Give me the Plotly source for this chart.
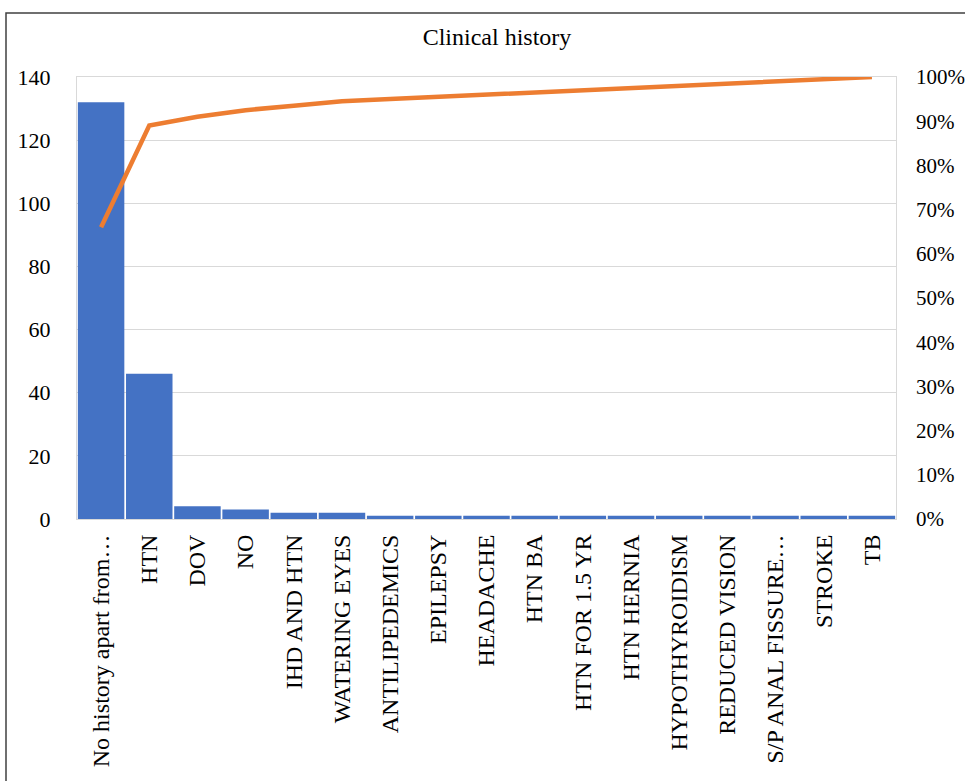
import plotly.graph_objects as go

categories = ["No history apart from…", "HTN", "DOV", "NO", "IHD AND HTN", "WATERING EYES",
              "ANTILIPEDEMICS", "EPILEPSY", "HEADACHE", "HTN BA", "HTN FOR 1.5 YR",
              "HTN HERNIA", "HYPOTHYROIDISM", "REDUCED VISION", "S/P ANAL FISSURE…",
              "STROKE", "TB"]
counts = [132, 46, 4, 3, 2, 2, 1, 1, 1, 1, 1, 1, 1, 1, 1, 1, 1]
cumulative_pct = [0.66, 0.89, 0.91, 0.925, 0.935, 0.945, 0.95, 0.955, 0.96, 0.965,
                  0.97, 0.975, 0.98, 0.985, 0.99, 0.995, 1.0]
left_ticks = [0, 20, 40, 60, 80, 100, 120, 140]
right_ticks = [0, 0.1, 0.2, 0.3, 0.4, 0.5, 0.6, 0.7, 0.8, 0.9, 1.0]

FONT = "Liberation Serif, Times New Roman, serif"

W, H = 965, 781

fig = go.Figure()
fig.add_trace(go.Bar(x=categories, y=counts, marker=dict(color="#4472C4", line=dict(width=0)),
                     name="Count", yaxis="y"))
fig.add_trace(go.Scatter(x=categories, y=cumulative_pct, mode="lines",
                         line=dict(color="#ED7D31", width=4.5), name="Cumulative",
                         yaxis="y2"))

fig.update_layout(
    width=W, height=H,
    margin=dict(l=77, r=69, t=77, b=262, pad=0, autoexpand=False),
    paper_bgcolor="white", plot_bgcolor="white",
    showlegend=False,
    bargap=0.035,
    font=dict(family=FONT, size=22, color="#000000"),
    title=dict(text="Clinical history", x=497 / W, xref="container", xanchor="center",
               y=1 - 37 / H, yref="container", yanchor="middle",
               font=dict(family=FONT, size=24, color="#000000")),
    xaxis=dict(tickangle=-90, showgrid=False, showline=True, linecolor="#d9d9d9",
               linewidth=1, mirror=True, ticks="", ticklabelstandoff=5, automargin=False,
               tickfont=dict(family=FONT, size=24, color="#000000")),
    yaxis=dict(range=[0, 140], tickvals=left_ticks, showgrid=True, gridcolor="#d9d9d9",
               gridwidth=1, showline=True, linecolor="#d9d9d9", mirror=True, ticks="",
               zeroline=False, ticklabelstandoff=21, automargin=False,
               tickfont=dict(family=FONT, size=22, color="#000000")),
    yaxis2=dict(range=[0, 1], tickvals=right_ticks, tickformat=".0%", overlaying="y",
                side="right", showgrid=False, zeroline=False, showline=False, ticks="",
                ticklabelstandoff=19, automargin=False,
                tickfont=dict(family=FONT, size=21, color="#000000")),
    shapes=[dict(type="rect", xref="paper", yref="paper",
                 x0=(6 - 77) / 819, x1=1.2, y0=-1.0, y1=(519 - 13) / 442,
                 line=dict(color="#404040", width=1.5), layer="below")],
)

fig.write_html("out.html", config={"displayModeBar": False},
               post_script="document.body.style.margin='0';")
